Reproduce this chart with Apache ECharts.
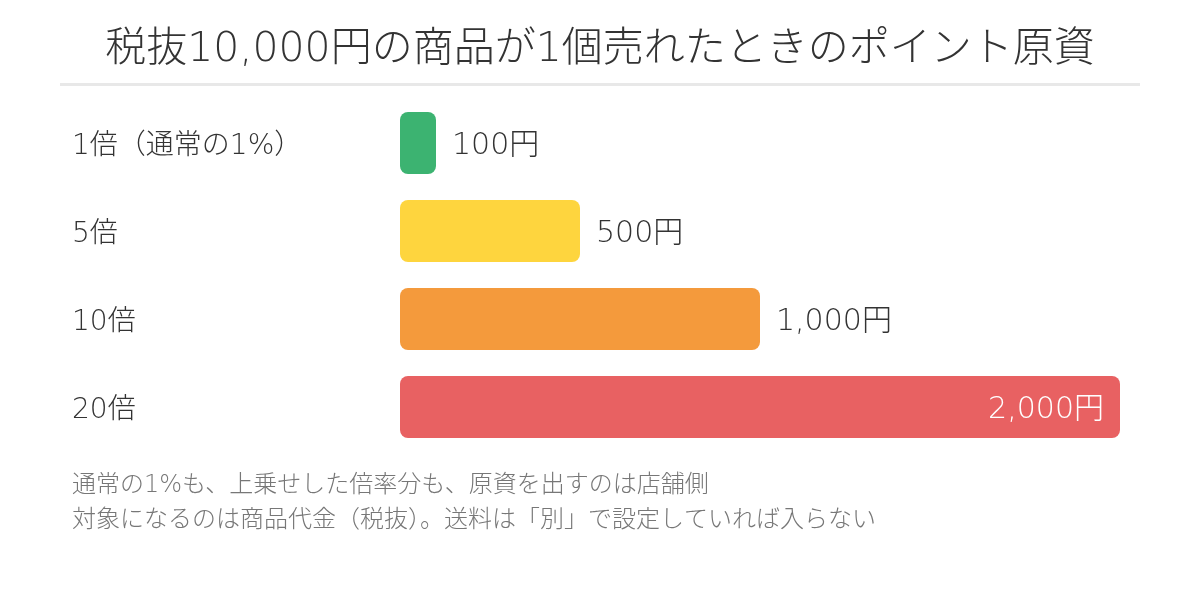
<!DOCTYPE html>
<html><head><meta charset="utf-8">
<script src="https://cdn.jsdelivr.net/npm/echarts@6/dist/echarts.min.js"></script>
<style>html,body{margin:0;padding:0;background:#fff}#c{width:1200px;height:592px}</style>
</head><body><div id="c"></div>
<script>
const categories = ['1倍（通常の1%）', '5倍', '10倍', '20倍'];
const values = [100, 500, 1000, 2000];
const valueLabels = ['100円', '500円', '1,000円', '2,000円'];
const colors = ['#3cb371', '#fed53e', '#f49a3c', '#e86162'];
const notes = ['通常の1%も、上乗せした倍率分も、原資を出すのは店舗側', '対象になるのは商品代金（税抜）。送料は「別」で設定していれば入らない'];
const FONT = '"DejaVu Sans", "Noto Sans CJK JP", sans-serif';
const W = 300;
const chart = echarts.init(document.getElementById('c'));
chart.setOption({
  animation: false,
  title: {text: '税抜10,000円の商品が1個売れたときのポイント原資', left: 'center', top: 25,
    textStyle: {fontFamily: FONT, fontSize: 41, fontWeight: W, color: '#333'}},
  graphic: [
    {type: 'rect', shape: {x: 60, y: 83, width: 1080, height: 3}, style: {fill: '#e8e8e8'}},
    {type: 'text', left: 72, top: 474, style: {text: notes[0], fontFamily: FONT, fontSize: 24, fontWeight: W, fill: '#777'}},
    {type: 'text', left: 72, top: 509, style: {text: notes[1], fontFamily: FONT, fontSize: 24, fontWeight: W, fill: '#777'}}
  ],
  grid: {left: 400, right: 80, top: 99, bottom: 141, containLabel: false},
  xAxis: {type: 'value', min: 0, max: 2000, show: false},
  yAxis: {type: 'category', inverse: true, data: categories,
    axisLine: {show: false}, axisTick: {show: false},
    axisLabel: {align: 'left', margin: 328, formatter: v => '{t|' + v + '}',
      rich: {t: {padding: [8, 0, 0, 0], fontFamily: FONT, fontSize: 28, fontWeight: W, color: '#333'}}}},
  series: [{type: 'bar', barWidth: 62,
    data: values.map((v, i) => ({value: v, itemStyle: {color: colors[i], borderRadius: 8},
      label: i === 3 ? {position: 'insideRight', distance: 16, color: '#fff'} : {}})),
    label: {show: true, position: 'right', distance: 16, offset: [0, 3], fontFamily: FONT, fontSize: 30, fontWeight: W, color: '#333',
      formatter: p => valueLabels[p.dataIndex]}}]
});
</script></body></html>
